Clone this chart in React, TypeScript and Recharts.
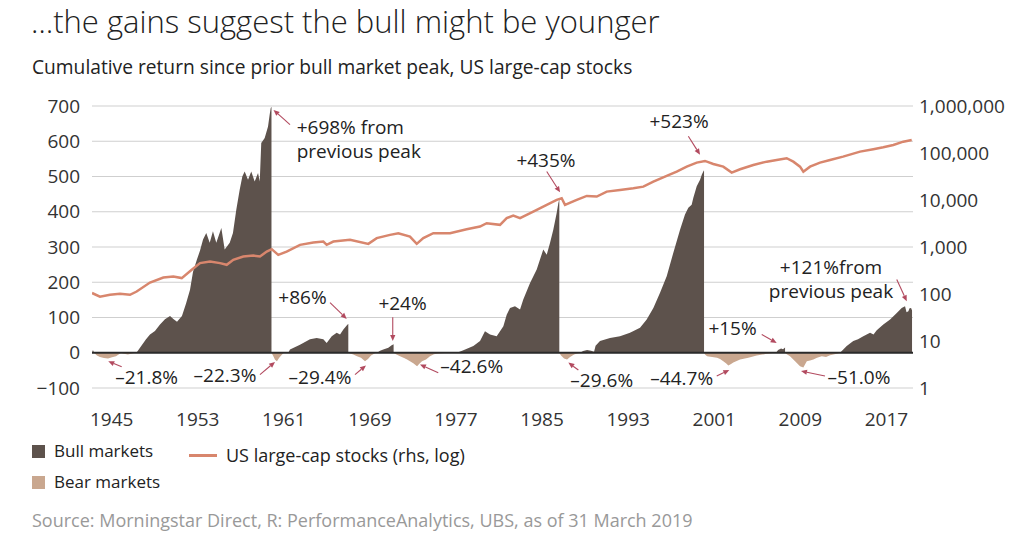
import React from "react";
import {
  ComposedChart,
  Area,
  Line,
  XAxis,
  YAxis,
  CartesianGrid,
  ReferenceLine,
  ReferenceDot,
} from "recharts";

type Pt = [number, number];

// x values are decimal years as placed on the chart's own year axis
const YEAR_TICKS = [1945, 1953, 1961, 1969, 1977, 1985, 1993, 2001, 2009, 2017];
const RETURN_TICKS = [-100, 0, 100, 200, 300, 400, 500, 600, 700];
const INDEX_TICKS = [1, 10, 100, 1000, 10000, 100000, 1000000];

// cumulative return since prior bull market peak (%), bull phases
const bull1943: Pt[] = [[1943.17, 0], [1943.26, 8], [1943.36, 0]];
const bull1949: Pt[] = [
  [1947.3, 0], [1948.19, 38], [1948.56, 52], [1949.02, 62], [1949.49, 80], [1949.95, 95],
  [1950.42, 104], [1950.73, 96], [1951.07, 88], [1951.53, 104], [1951.91, 140], [1952.28, 179],
  [1952.56, 230], [1952.93, 265], [1953.21, 290], [1953.49, 321], [1953.79, 340], [1954.11, 312],
  [1954.41, 345], [1954.72, 312], [1955.19, 354], [1955.5, 293], [1955.97, 312], [1956.27, 340],
  [1956.58, 406], [1956.9, 463], [1957.14, 500], [1957.36, 514], [1957.67, 491], [1957.97, 514],
  [1958.29, 486], [1958.6, 510], [1958.76, 486], [1958.9, 595], [1959.22, 609], [1959.53, 642],
  [1959.68, 675], [1959.78, 694], [1959.85, 698], [1959.85, 0],
];
const bull1968: Pt[] = [
  [1961.41, 0], [1961.57, 9], [1962.5, 23], [1963.43, 38], [1964.05, 42], [1964.67, 38],
  [1964.98, 28], [1965.45, 47], [1965.91, 57], [1966.22, 52], [1966.53, 66], [1966.84, 77],
  [1966.99, 82], [1966.99, 0],
];
const bull1973: Pt[] = [
  [1969.66, 0], [1969.94, 6], [1970.24, 9], [1970.71, 14], [1971.02, 21], [1971.2, 24], [1971.2, 0],
];
const bull1987: Pt[] = [
  [1977.09, 0], [1977.68, 7], [1978.61, 19], [1979.23, 33], [1979.69, 61], [1980.16, 52],
  [1980.78, 47], [1981.4, 75], [1981.71, 108], [1982.02, 127], [1982.48, 132], [1982.95, 123],
  [1983.25, 151], [1983.88, 198], [1984.5, 236], [1985.11, 293], [1985.43, 278], [1985.74, 312],
  [1986.04, 349], [1986.2, 373], [1986.36, 397], [1986.51, 425], [1986.6, 435], [1986.6, 0],
];
const bull2000: Pt[] = [
  [1988.53, 0], [1988.81, 5], [1989.18, 8], [1989.55, 6], [1989.83, 3], [1989.97, 20],
  [1990.38, 33], [1991.31, 42], [1992.24, 47], [1993.17, 57], [1994.1, 71], [1994.72, 94],
  [1995.34, 127], [1995.96, 170], [1996.58, 217], [1997.19, 283], [1997.82, 349], [1998.28, 392],
  [1998.59, 411], [1998.9, 420], [1999.05, 439], [1999.37, 472], [1999.68, 491], [1999.84, 505],
  [1999.98, 514], [2000.05, 518], [2000.05, 0],
];
const bull2007: Pt[] = [
  [2006.74, 0], [2006.93, 8], [2007.21, 12], [2007.39, 10], [2007.58, 15], [2007.58, 0],
];
const bull2019: Pt[] = [
  [2012.69, 0], [2013.31, 19], [2013.92, 33], [2014.36, 38], [2014.85, 47], [2015.48, 57],
  [2015.8, 52], [2016.1, 64], [2016.71, 80], [2017.34, 94], [2017.96, 113], [2018.42, 127],
  [2018.73, 132], [2018.87, 115], [2019.04, 118], [2019.15, 126], [2019.29, 127], [2019.38, 120],
];

// bear phases (drawdown from the bull peak, %)
const bear1946: Pt[] = [
  [1943.36, 0], [1943.63, -8], [1943.91, -12], [1944.28, -15], [1944.66, -16], [1945.03, -13],
  [1945.4, -10], [1945.68, -4], [1945.86, -1], [1946.14, -3], [1946.51, -5], [1946.89, -2], [1947.17, 0],
];
const bear1962: Pt[] = [
  [1959.85, 0], [1959.99, -8], [1960.18, -20], [1960.36, -24], [1960.55, -15], [1960.83, -5], [1961.01, 0],
];
const bear1970: Pt[] = [
  [1966.99, 0], [1967.45, -5], [1967.8, -10], [1968.17, -14], [1968.54, -24], [1968.82, -18],
  [1969.1, -8], [1969.38, -3], [1969.56, 0],
];
const bear1974: Pt[] = [
  [1971.2, 0], [1971.42, -4], [1971.8, -10], [1972.17, -15], [1972.45, -19], [1972.72, -24],
  [1973.03, -30], [1973.38, -38], [1973.57, -32], [1973.84, -24], [1974.21, -19], [1974.58, -10],
  [1974.95, -4], [1975.33, -2], [1975.98, -1], [1976.63, 0],
];
const bear1987: Pt[] = [
  [1986.6, 0], [1986.76, -8], [1987.04, -16], [1987.32, -19], [1987.6, -12], [1987.97, -5],
  [1988.25, -2], [1988.53, 0],
];
const bear2002: Pt[] = [
  [2000.05, 0], [2000.14, -5], [2000.33, -10], [2000.8, -12], [2001.26, -14], [2001.54, -18],
  [2001.84, -24], [2002.09, -30], [2002.31, -36], [2002.56, -32], [2002.77, -28], [2003.4, -19],
  [2004.17, -14], [2004.95, -8], [2005.88, -3], [2006.65, 0],
];
const bear2009: Pt[] = [
  [2007.58, 0], [2007.67, -3], [2008.04, -10], [2008.51, -24], [2008.97, -38], [2009.28, -42],
  [2009.6, -24], [2009.9, -22], [2010.21, -19], [2010.55, -14], [2010.99, -10], [2011.39, -12],
  [2011.76, -7], [2012.38, -3], [2012.69, 0],
];

// US large-cap stocks total return index (rhs, log)
const usLargeCap: Pt[] = [
  [1943.17, 105], [1943.91, 88], [1944.84, 96], [1945.77, 101], [1946.7, 96], [1947.32, 113],
  [1948.56, 175], [1949.8, 224], [1950.73, 236], [1951.51, 218], [1952.44, 327], [1953.21, 454],
  [1954.14, 491], [1955.07, 454], [1955.69, 418], [1956.3, 533], [1957.23, 627], [1958.16, 658],
  [1958.78, 627], [1959.41, 800], [1959.87, 900], [1960.48, 681], [1961.26, 800], [1962.5, 1111],
  [1963.74, 1244], [1964.67, 1307], [1964.98, 1111], [1965.6, 1307], [1967.15, 1419], [1968.85, 1167],
  [1969.63, 1542], [1970.87, 1811], [1971.64, 1968], [1972.72, 1667], [1973.35, 1167], [1973.96, 1542],
  [1974.89, 1968], [1976.44, 1968], [1977.99, 2395], [1979.23, 2721], [1979.85, 3214], [1981.09, 2958],
  [1981.71, 4103], [1982.32, 4660], [1982.95, 4103], [1984.18, 5666], [1985.43, 7870], [1986.36, 10040],
  [1986.82, 10910], [1987.13, 7870], [1988.22, 10040], [1989.15, 12220], [1990.08, 11810], [1991.01, 15090],
  [1992.24, 16400], [1993.48, 17830], [1994.41, 19270], [1995.34, 24600], [1996.58, 32510], [1997.51, 40150],
  [1998.44, 51290], [1999.37, 62370], [2000.14, 67760], [2000.91, 58480], [2001.84, 51290], [2002.62, 38210],
  [2003.4, 45160], [2004.63, 55710], [2005.88, 65440], [2006.8, 71140], [2007.73, 77320], [2008.35, 65440],
  [2008.97, 51290], [2009.28, 40150], [2009.9, 51290], [2010.83, 62370], [2011.76, 71140], [2012.97, 83560],
  [2014.55, 106900], [2015.78, 120200], [2016.71, 132600], [2017.64, 148300], [2018.57, 174200], [2019.35, 189300],
];

const BULL = "#5d524c";
const BEAR = "#c9a78f";
const LINE = "#d8866d";
const ARROW = "#b24a5f";
const FONT = "'Open Sans', 'Noto Sans', sans-serif";

type Note = {
  lines: string[];
  x: number;
  y: number;
  anchor: "start" | "middle";
  from: [number, number];
  to: [number, number];
};

const NOTES: Note[] = [
  { lines: ["+698% from", "previous peak"], x: 1962.19, y: 640, anchor: "start", from: [1961.57, 647], to: [1960.04, 689] },
  { lines: ["+86%"], x: 1962.73, y: 157, anchor: "middle", from: [1965.29, 142], to: [1966.84, 96] },
  { lines: ["+24%"], x: 1972.03, y: 141, anchor: "middle", from: [1971.12, 101], to: [1971.12, 33] },
  { lines: ["+435%"], x: 1985.36, y: 546, anchor: "middle", from: [1985.43, 514], to: [1986.67, 455] },
  { lines: ["+523%"], x: 1997.73, y: 657, anchor: "middle", from: [1998.59, 614], to: [1999.68, 562] },
  { lines: ["+15%"], x: 2002.7, y: 69, anchor: "middle", from: [2005.41, 52], to: [2006.8, 28] },
  { lines: ["+121%from", "previous peak"], x: 2011.85, y: 242, anchor: "middle", from: [2017.96, 208], to: [2018.89, 146] },
  { lines: ["–21.8%"], x: 1948.25, y: -70, anchor: "middle", from: [1945.93, -40], to: [1944.68, -24] },
  { lines: ["–22.3%"], x: 1955.53, y: -62, anchor: "middle", from: [1958.78, -62], to: [1960.18, -26] },
  { lines: ["–29.4%"], x: 1964.36, y: -70, anchor: "middle", from: [1967.61, -62], to: [1968.63, -36] },
  { lines: ["–42.6%"], x: 1978.46, y: -38, anchor: "middle", from: [1975.35, -57], to: [1973.65, -33] },
  { lines: ["–29.6%"], x: 1990.54, y: -76, anchor: "middle", from: [1988.37, -49], to: [1987.44, -28] },
  { lines: ["–44.7%"], x: 1997.98, y: -73, anchor: "middle", from: [2001.23, -66], to: [2002.4, -49] },
  { lines: ["–51.0%"], x: 2014.45, y: -69, anchor: "middle", from: [2011.29, -66], to: [2009.06, -52] },
];

type Row = { t: number; bull?: number; bear?: number; index?: number };

const bullPts = [bull1943, bull1949, bull1968, bull1973, bull1987, bull2000, bull2007, bull2019].flat();
const bearPts = [bear1946, bear1962, bear1970, bear1974, bear1987, bear2002, bear2009].flat();

const rows: Row[] = [
  ...bullPts.map(([t, v]) => ({ t, bull: v })),
  ...bearPts.map(([t, v]) => ({ t, bear: v })),
  ...usLargeCap.map(([t, v]) => ({ t, index: v })),
].sort((a, b) => a.t - b.t);

function Arrow(p: any) {
  const { x1, y1, x2, y2 } = p;
  const dx = x2 - x1;
  const dy = y2 - y1;
  const len = Math.hypot(dx, dy) || 1;
  const ux = dx / len;
  const uy = dy / len;
  const bx = x2 - ux * 6;
  const by = y2 - uy * 6;
  return (
    <g>
      <line x1={x1} y1={y1} x2={bx} y2={by} stroke={ARROW} strokeWidth={1.1} />
      <polygon
        points={`${x2},${y2} ${bx - uy * 2.6},${by + ux * 2.6} ${bx + uy * 2.6},${by - ux * 2.6}`}
        fill={ARROW}
      />
    </g>
  );
}

function noteLabel(n: Note) {
  return (p: any) => (
    <text
      x={p.cx}
      y={p.cy}
      textAnchor={n.anchor}
      dominantBaseline="central"
      fontSize={19}
      fontFamily={FONT}
      fill="#222"
    >
      {n.lines.map((l, i) => (
        <tspan key={i} x={p.cx} dy={i === 0 ? 0 : 24}>
          {l}
        </tspan>
      ))}
    </text>
  );
}

const tickStyle = { fontSize: 19, fill: "#333", fontFamily: FONT };

export default function App() {
  return (
    <div
      style={{
        position: "absolute",
        left: 0,
        top: 0,
        width: 1024,
        height: 537,
        background: "#fff",
        fontFamily: FONT,
        color: "#222",
        overflow: "hidden",
      }}
    >
      <div style={{ position: "absolute", left: 31, top: 3, fontSize: 31, fontWeight: 300, lineHeight: "37px", whiteSpace: "nowrap" }}>
        …the gains suggest the bull might be younger
      </div>
      <div style={{ position: "absolute", left: 32, top: 54, fontSize: 19.2, lineHeight: "26px", whiteSpace: "nowrap" }}>
        Cumulative return since prior bull market peak, US large-cap stocks
      </div>

      <div style={{ position: "absolute", left: 0, top: 0 }}>
        <ComposedChart
          width={1024}
          height={440}
          data={rows}
          margin={{ top: 106, right: 0, bottom: 12, left: 0 }}
        >
          <CartesianGrid yAxisId="left" vertical={false} stroke="#cfcfcf" strokeWidth={1} />
          <XAxis
            type="number"
            dataKey="t"
            domain={[1943.17, 2019.47]}
            ticks={YEAR_TICKS}
            allowDataOverflow
            axisLine={false}
            tickLine={false}
            tickMargin={19}
            height={40}
            tick={tickStyle}
          />
          <YAxis
            yAxisId="left"
            domain={[-100, 700]}
            ticks={RETURN_TICKS}
            allowDataOverflow
            axisLine={false}
            tickLine={false}
            tickMargin={6}
            width={92}
            tick={tickStyle}
            tickFormatter={(v: number) => (v < 0 ? `−${Math.abs(v)}` : `${v}`)}
          />
          <YAxis
            yAxisId="right"
            orientation="right"
            scale="log"
            domain={[1, 1000000]}
            ticks={INDEX_TICKS}
            allowDataOverflow
            axisLine={false}
            tickLine={false}
            tickMargin={0}
            width={111}
            tick={{ ...tickStyle, textAnchor: "start" }}
            tickFormatter={(v: number) => v.toLocaleString("en-US")}
          />
          <Area
            yAxisId="left"
            type="linear"
            dataKey="bull"
            baseValue={0}
            stroke="none"
            fill={BULL}
            fillOpacity={1}
            connectNulls
            dot={false}
            activeDot={false}
            isAnimationActive={false}
          />
          <Area
            yAxisId="left"
            type="linear"
            dataKey="bear"
            baseValue={0}
            stroke="none"
            fill={BEAR}
            fillOpacity={1}
            connectNulls
            dot={false}
            activeDot={false}
            isAnimationActive={false}
          />
          <ReferenceLine yAxisId="left" y={0} stroke="#2a2a2a" strokeWidth={2} />
          <Line
            yAxisId="right"
            type="linear"
            dataKey="index"
            stroke={LINE}
            strokeWidth={2.5}
            connectNulls
            dot={false}
            activeDot={false}
            isAnimationActive={false}
          />
          {NOTES.map((n, i) => (
            <ReferenceLine
              key={`a${i}`}
              yAxisId="left"
              segment={[
                { x: n.from[0], y: n.from[1] },
                { x: n.to[0], y: n.to[1] },
              ]}
              shape={Arrow}
            />
          ))}
          {NOTES.map((n, i) => (
            <ReferenceDot
              key={`l${i}`}
              yAxisId="left"
              x={n.x}
              y={n.y}
              r={1}
              shape={noteLabel(n)}
            />
          ))}
        </ComposedChart>
      </div>

      <div style={{ position: "absolute", left: 32, top: 445, width: 13, height: 13, background: BULL }} />
      <div style={{ position: "absolute", left: 54, top: 439, fontSize: 17, lineHeight: "24px", whiteSpace: "nowrap" }}>
        Bull markets
      </div>
      <div style={{ position: "absolute", left: 189, top: 454, width: 28, height: 3, background: LINE }} />
      <div style={{ position: "absolute", left: 226, top: 442, fontSize: 18, lineHeight: "26px", whiteSpace: "nowrap" }}>
        US large-cap stocks (rhs, log)
      </div>
      <div style={{ position: "absolute", left: 32, top: 476, width: 13, height: 13, background: BEAR }} />
      <div style={{ position: "absolute", left: 54, top: 470, fontSize: 17, lineHeight: "24px", whiteSpace: "nowrap" }}>
        Bear markets
      </div>
      <div style={{ position: "absolute", left: 32, top: 507, fontSize: 18, lineHeight: "26px", color: "#999", whiteSpace: "nowrap" }}>
        Source: Morningstar Direct, R: PerformanceAnalytics, UBS, as of 31 March 2019
      </div>
    </div>
  );
}
